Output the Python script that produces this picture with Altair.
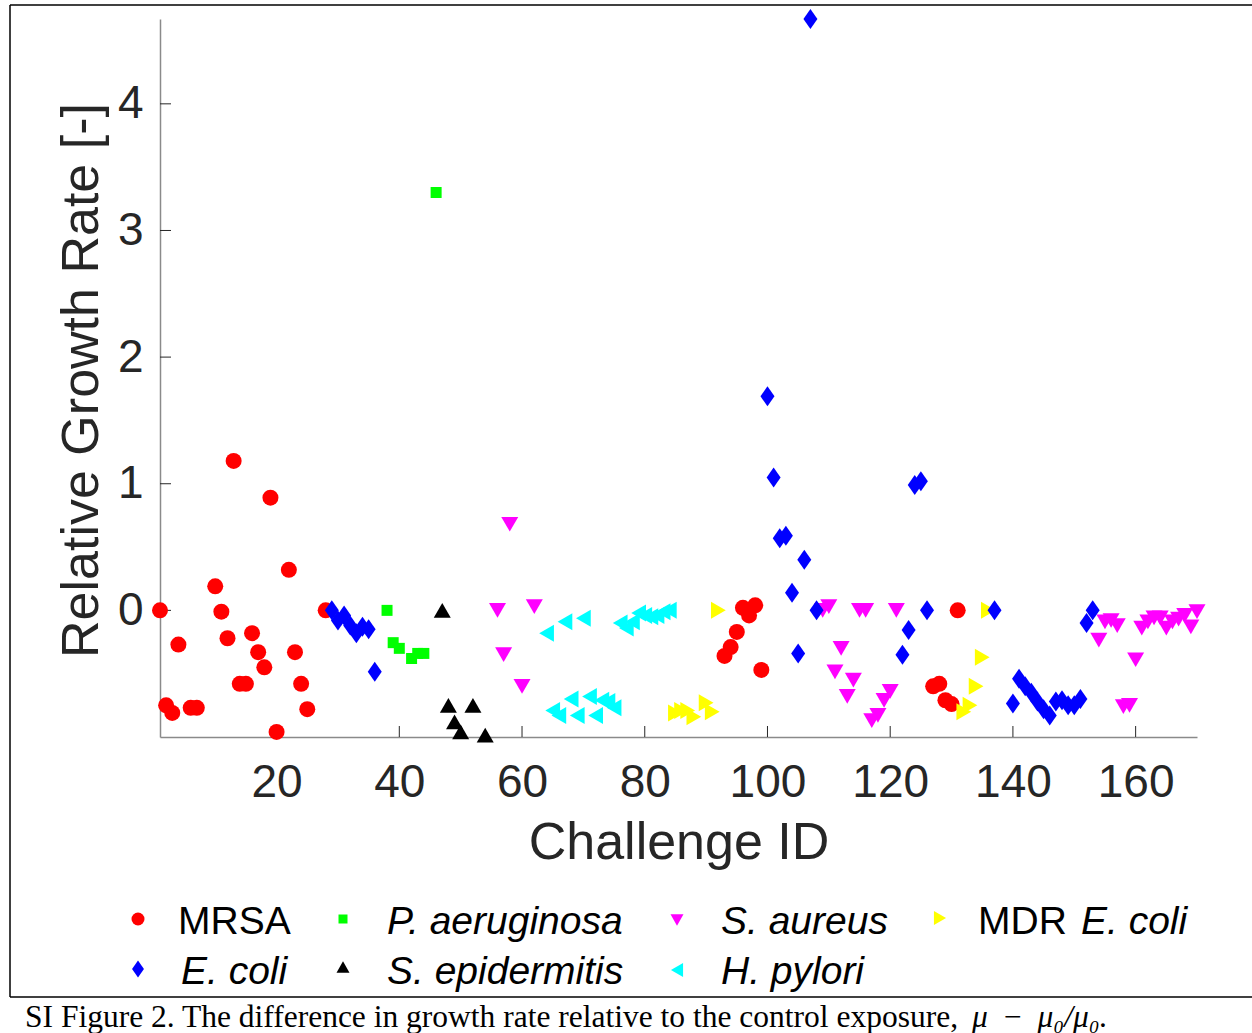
import altair as alt
import pandas as pd

# ---------------- data ----------------
mrsa_x = [1, 2, 3, 4, 6, 7, 10, 11, 12, 13, 14, 15, 16, 17, 18, 19, 20, 22, 23, 24, 25, 28,
          93, 94, 95, 96, 97, 98, 99, 127, 128, 129, 130, 131]
mrsa_y = [0.00, -0.75, -0.81, -0.27, -0.77, -0.77, 0.19, -0.01, -0.22, 1.18, -0.58, -0.58, -0.18,
          -0.33, -0.45, 0.89, -0.96, 0.32, -0.33, -0.58, -0.78, 0.00,
          -0.36, -0.29, -0.17, 0.02, -0.04, 0.04, -0.47, -0.60, -0.58, -0.71, -0.74, 0.00]

pa_x = [38, 39, 40, 42, 43, 44, 46]
pa_y = [0.00, -0.255, -0.30, -0.38, -0.34, -0.34, 3.30]

sa_x = [56, 57, 58, 60, 62, 109, 110, 111, 112, 113, 114, 115, 116, 117, 118, 119, 120, 121,
        154, 155, 156, 157, 158, 159, 160, 161, 162, 163, 164, 165, 166, 167, 168, 169, 170]
sa_y = [0.00, -0.35, 0.68, -0.60, 0.03, 0.00, 0.03, -0.485, -0.30, -0.68, -0.55, 0.00, 0.00, -0.87,
        -0.83, -0.71, -0.64, 0.00,
        -0.235, -0.09, -0.08, -0.12, -0.76, -0.75, -0.39, -0.14, -0.09, -0.06, -0.06, -0.14, -0.09,
        -0.07, -0.04, -0.13, -0.01]

mdr_x = [85, 86, 87, 88, 90, 91, 92, 132, 133, 134, 135, 136]
mdr_y = [-0.81, -0.79, -0.79, -0.84, -0.73, -0.80, 0.00, -0.80, -0.75, -0.60, -0.37, 0.00]

ec_x = [29, 30, 31, 32, 33, 34, 35, 36, 100, 101, 102, 103, 104, 105, 106, 107, 108,
        122, 123, 124, 125, 126, 137, 140, 141, 142, 143, 144, 145, 146, 147, 148, 149, 150,
        151, 152, 153]
ec_y = [0.00, -0.08, -0.04, -0.12, -0.18, -0.13, -0.15, -0.485, 1.69, 1.05, 0.57, 0.59, 0.14,
        -0.34, 0.40, 4.67, 0.00, -0.35, -0.155, 0.99, 1.02, 0.00, 0.00, -0.735, -0.54, -0.60,
        -0.65, -0.72, -0.78, -0.83, -0.72, -0.71, -0.75, -0.75, -0.70, -0.10, 0.00]

se_x = [47, 48, 49, 50, 52, 54]
se_y = [0.00, -0.75, -0.88, -0.96, -0.75, -0.985]

hp_x = [64, 65, 66, 67, 68, 69, 70, 71, 72, 73, 74, 75, 76, 77, 78, 79, 80, 81, 82, 83, 84]
hp_y = [-0.18, -0.79, -0.83, -0.09, -0.70, -0.83, -0.063, -0.68, -0.83, -0.71, -0.72, -0.77,
        -0.10, -0.14, -0.09, -0.02, -0.04, -0.05, -0.04, -0.01, 0.00]

organisms = ["MRSA", "P. aeruginosa", "S. aureus", "MDR E. coli", "E. coli", "S. epidermitis", "H. pylori"]
x_ticks = [20, 40, 60, 80, 100, 120, 140, 160]
y_ticks = [0, 1, 2, 3, 4]

# ---------------- styles ----------------
colors = ["#FF0000", "#00FF00", "#FF00FF", "#FFFF00", "#0000FF", "#000000", "#00FFFF"]
DIAMOND = "M0,-1L0.7,0L0,1L-0.7,0Z"
shapes = ["circle", "square", "triangle-down", "triangle-right", DIAMOND, "triangle-up", "triangle-left"]
sizes = [256, 121, 289, 289, 400, 289, 289]
leg_sizes = [169, 81, 169, 196, 289, 169, 196]

xs_all = [mrsa_x, pa_x, sa_x, mdr_x, ec_x, se_x, hp_x]
ys_all = [mrsa_y, pa_y, sa_y, mdr_y, ec_y, se_y, hp_y]

W, H = 1037, 718
SANS = "Liberation Sans"
SERIF = "Liberation Serif"
DARK = "#262626"

xscale = alt.Scale(domain=[1, 170], nice=False, zero=False)
yscale = alt.Scale(domain=[-1, 4.67], nice=False, zero=False)

x_axis = alt.Axis(values=x_ticks, ticks=False, tickSize=0, grid=False,
                  labelFont=SANS, labelFontSize=46, labelColor=DARK,
                  labelPadding=59, labelBaseline="alphabetic", labelOverlap=False,
                  domainColor="#8a8a8a", domainWidth=1.5,
                  title="Challenge ID", titleFont=SANS, titleFontSize=52,
                  titleFontWeight="normal", titleColor=DARK,
                  titleBaseline="alphabetic", titleY=121)
y_axis = alt.Axis(values=y_ticks, ticks=False, tickSize=0, grid=False,
                  labelFont=SANS, labelFontSize=46, labelColor=DARK,
                  labelPadding=17, labelOverlap=False,
                  domainColor="#8a8a8a", domainWidth=1.5,
                  title="Relative Growth Rate [-]", titleFont=SANS, titleFontSize=52,
                  titleFontWeight="normal", titleColor=DARK,
                  titleAngle=270, titleAlign="center", titleBaseline="alphabetic",
                  titleX=-63, titleY=361)

layers = []

# inward tick marks, drawn through the shared scales
layers.append(alt.Chart(pd.DataFrame({"rate": y_ticks})).mark_rule(color=DARK, strokeWidth=1).encode(
    y=alt.Y("rate:Q", scale=yscale, axis=y_axis), x=alt.value(0), x2=alt.value(11)))
layers.append(alt.Chart(pd.DataFrame({"id": x_ticks})).mark_rule(color=DARK, strokeWidth=1).encode(
    x=alt.X("id:Q", scale=xscale, axis=x_axis), y=alt.value(H), y2=alt.value(H - 11)))

# scatter series
for i, name in enumerate(organisms):
    d = pd.DataFrame({"id": xs_all[i], "rate": ys_all[i]})
    layers.append(alt.Chart(d).mark_point(
        filled=True, opacity=1, strokeWidth=0, shape=shapes[i], color=colors[i], size=sizes[i]
    ).encode(
        x=alt.X("id:Q", scale=xscale, axis=x_axis),
        y=alt.Y("rate:Q", scale=yscale, axis=y_axis),
    ))

one = pd.DataFrame({"k": [0]})

# frame lines (figure decoration)
layers.append(alt.Chart(one).mark_rule(color="black", strokeWidth=1.5).encode(
    x=alt.value(-150), x2=alt.value(1092), y=alt.value(-14)))
layers.append(alt.Chart(one).mark_rule(color="black", strokeWidth=1.5).encode(
    x=alt.value(-150), y=alt.value(-14), y2=alt.value(978)))
layers.append(alt.Chart(one).mark_rule(color="black", strokeWidth=1.5).encode(
    x=alt.value(-150), x2=alt.value(1092), y=alt.value(978)))

# legend (manual, to allow mixed roman/italic text)
sym_x = [-22, 183, 517, 780, -22, 183, 517]
sym_y = [900, 900, 901, 899, 950, 948, 951]
lab_x = [18, 227, 561, 818, 21, 227, 561]
lab_y = [915, 915, 915, 915, 965, 965, 965]
for i, name in enumerate(organisms):
    layers.append(alt.Chart(one).mark_point(
        filled=True, opacity=1, strokeWidth=0, shape=shapes[i], color=colors[i], size=leg_sizes[i]
    ).encode(x=alt.value(sym_x[i]), y=alt.value(sym_y[i])))
    if name == "MDR E. coli":
        layers.append(alt.Chart(one).mark_text(
            text="MDR", font=SANS, fontSize=39, color="black", align="left", baseline="alphabetic"
        ).encode(x=alt.value(lab_x[i]), y=alt.value(lab_y[i])))
        layers.append(alt.Chart(one).mark_text(
            text="E. coli", font=SANS, fontSize=39, fontStyle="italic", color="black",
            align="left", baseline="alphabetic"
        ).encode(x=alt.value(lab_x[i] + 103), y=alt.value(lab_y[i])))
    else:
        layers.append(alt.Chart(one).mark_text(
            text=name, font=SANS, fontSize=39, color="black", align="left", baseline="alphabetic",
            fontStyle=("normal" if name == "MRSA" else "italic")
        ).encode(x=alt.value(lab_x[i]), y=alt.value(lab_y[i])))

# caption
layers.append(alt.Chart(one).mark_text(
    text="SI Figure 2. The difference in growth rate relative to the control exposure,",
    font=SERIF, fontSize=31.5, color="black", align="left", baseline="alphabetic"
).encode(x=alt.value(-135), y=alt.value(1008)))
layers.append(alt.Chart(one).mark_text(
    text="\u03bc \u2009\u2212\u2009 \u03bc\u2080/\u03bc\u2080.",
    font=SERIF, fontSize=31.5, fontStyle="italic", color="black", align="left", baseline="alphabetic"
).encode(x=alt.value(812), y=alt.value(1008)))

chart = alt.layer(*layers).properties(
    width=W, height=H,
    padding={"left": 160, "top": 19, "right": 55, "bottom": 296},
    autosize=alt.AutoSizeParams(type="none"),
    background="white",
).configure_view(strokeWidth=0)

chart.save("out.html", embed_options={"renderer": "svg", "actions": False})
